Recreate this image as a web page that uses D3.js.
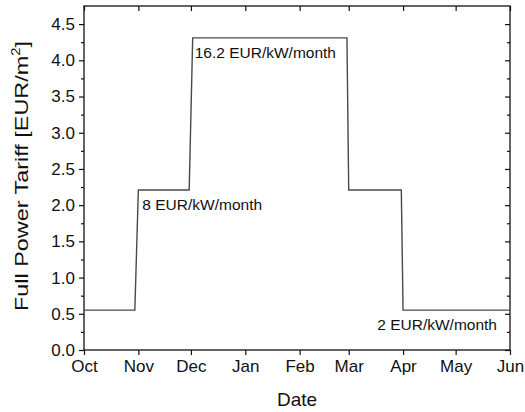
<!DOCTYPE html>
<html>
<head>
<meta charset="utf-8">
<script src="https://cdn.jsdelivr.net/npm/d3@7"></script>
<style>
  body { margin: 0; background: #fff; }
  text { font-family: 'Liberation Sans', Arial, sans-serif; fill: #111; }
</style>
</head>
<body>
<svg id="chart" width="525" height="412"></svg>
<script>
'use strict';

// tariff steps (date, EUR/m2)
var stepDates = ['2018-10-01', '2018-10-30', '2018-11-01', '2018-11-30', '2018-12-02',
    '2019-02-28', '2019-03-01', '2019-03-31', '2019-04-01', '2019-06-01'];
var stepValues = [0.55, 0.55, 2.21, 2.21, 4.31, 4.31, 2.21, 2.21, 0.55, 0.55];

var monthLabels = ['Oct', 'Nov', 'Dec', 'Jan', 'Feb', 'Mar', 'Apr', 'May', 'Jun'];
var yTicks = [0, 0.5, 1, 1.5, 2, 2.5, 3, 3.5, 4, 4.5];

var notes = [
    { text: '16.2 EUR/kW/month', date: '2018-12-02', value: 4.31, anchor: 'start', dx: 2, dy: 20 },
    { text: '8 EUR/kW/month', date: '2018-11-01', value: 2.21, anchor: 'start', dx: 4, dy: 20 },
    { text: '2 EUR/kW/month', date: '2019-06-01', value: 0.55, anchor: 'end', dx: -13, dy: 20 }
];

var parse = d3.timeParse('%Y-%m-%d');
var svg = d3.select('#chart');
var margin = { top: 6, right: 15, bottom: 62, left: 84 };
var width = 525 - margin.left - margin.right;
var height = 412 - margin.top - margin.bottom;

var x = d3.scaleTime()
    .domain([parse('2018-10-01'), parse('2019-06-01')])
    .range([0, width]);
var y = d3.scaleLinear()
    .domain([0, 4.75])
    .range([height, 0]);

var g = svg.append('g')
    .attr('transform', 'translate(' + margin.left + ',' + margin.top + ')');

var monthTicks = d3.timeMonth.range(parse('2018-10-01'), parse('2019-06-02'));
var minorY = d3.range(0.25, 4.75, 0.5);

// outward axes
var xAxis = g.append('g')
    .attr('transform', 'translate(0,' + height + ')')
    .call(d3.axisBottom(x).tickValues(monthTicks)
        .tickFormat(function(d, i) { return monthLabels[i]; })
        .tickSize(5).tickPadding(5));
var yAxis = g.append('g')
    .call(d3.axisLeft(y).tickValues(yTicks)
        .tickFormat(d3.format('.1f')).tickSize(5).tickPadding(4));
g.append('g')
    .call(d3.axisLeft(y).tickValues(minorY).tickFormat('').tickSize(3));

// inward ticks on top and right
g.append('g')
    .call(d3.axisTop(x).tickValues(monthTicks).tickFormat('').tickSize(-5));
g.append('g')
    .attr('transform', 'translate(' + width + ',0)')
    .call(d3.axisRight(y).tickValues(yTicks).tickFormat('').tickSize(-5));
g.append('g')
    .attr('transform', 'translate(' + width + ',0)')
    .call(d3.axisRight(y).tickValues(minorY).tickFormat('').tickSize(-3));

g.selectAll('.domain').remove();
g.selectAll('.tick line').attr('stroke', '#111').attr('stroke-width', 1.2);
xAxis.selectAll('text').style('font-size', '17px').attr('fill', '#111');
yAxis.selectAll('text').style('font-size', '17px').attr('fill', '#111');

g.append('rect')
    .attr('width', width)
    .attr('height', height)
    .attr('fill', 'none')
    .attr('stroke', '#111')
    .attr('stroke-width', 1.3);

var line = d3.line()
    .x(function(d, i) { return x(parse(stepDates[i])); })
    .y(function(d) { return y(d); });

g.append('path')
    .datum(stepValues)
    .attr('d', line)
    .attr('fill', 'none')
    .attr('stroke', '#4a4a4a')
    .attr('stroke-width', 1.4);

g.selectAll('.note')
    .data(notes)
    .enter().append('text')
    .attr('class', 'note')
    .attr('x', function(d) { return x(parse(d.date)) + d.dx; })
    .attr('y', function(d) { return y(d.value) + d.dy; })
    .attr('text-anchor', function(d) { return d.anchor; })
    .style('font-size', '15.5px')
    .text(function(d) { return d.text; });

svg.append('text')
    .attr('x', margin.left + width / 2)
    .attr('y', 406)
    .attr('text-anchor', 'middle')
    .style('font-size', '19px')
    .text('Date');

var yTitle = svg.append('text')
    .attr('transform', 'translate(28,176) rotate(-90)')
    .attr('text-anchor', 'middle')
    .attr('textLength', 270)
    .attr('lengthAdjust', 'spacingAndGlyphs')
    .style('font-size', '19px');
yTitle.append('tspan').text('Full Power Tariff [EUR/m');
yTitle.append('tspan').attr('dy', -8).style('font-size', '12px').text('2');
yTitle.append('tspan').attr('dy', 8).text(']');
</script>
</body>
</html>
